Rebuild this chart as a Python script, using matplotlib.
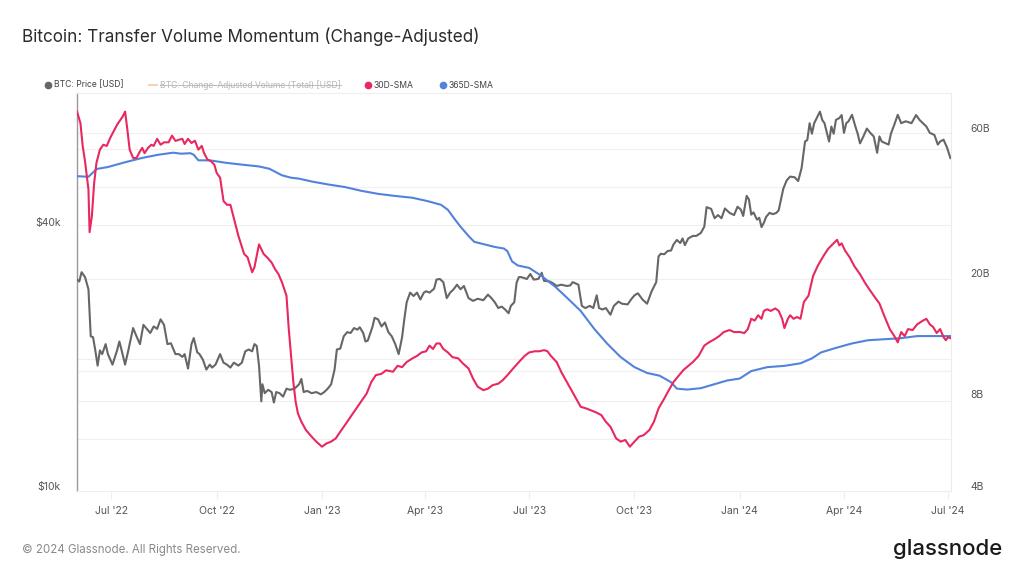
import matplotlib
matplotlib.use("Agg")
import matplotlib.pyplot as plt
import matplotlib.dates as mdates
from matplotlib.lines import Line2D
from matplotlib.transforms import ScaledTranslation
import numpy as np
import pandas as pd

plt.rcParams["font.family"] = ["Inter", "DejaVu Sans"]

# ── BTC price [USD] ───────────────────────────────────────────────────────
price_dates = [
    "2022-06-01", "2022-06-03", "2022-06-05", "2022-06-08", "2022-06-11", "2022-06-13",
    "2022-06-15", "2022-06-17", "2022-06-19", "2022-06-21", "2022-06-23", "2022-06-26",
    "2022-06-28", "2022-07-02", "2022-07-06", "2022-07-08", "2022-07-10", "2022-07-13",
    "2022-07-16", "2022-07-20", "2022-07-23", "2022-07-26", "2022-07-29", "2022-08-01",
    "2022-08-04", "2022-08-07", "2022-08-10", "2022-08-13", "2022-08-16", "2022-08-19",
    "2022-08-22", "2022-08-26", "2022-08-29", "2022-09-01", "2022-09-03", "2022-09-06",
    "2022-09-09", "2022-09-11", "2022-09-14", "2022-09-16", "2022-09-19", "2022-09-22",
    "2022-09-25", "2022-09-27", "2022-09-30", "2022-10-04", "2022-10-07", "2022-10-10",
    "2022-10-13", "2022-10-16", "2022-10-20", "2022-10-23", "2022-10-26", "2022-10-29",
    "2022-11-01", "2022-11-03", "2022-11-05", "2022-11-07", "2022-11-09", "2022-11-10",
    "2022-11-12", "2022-11-15", "2022-11-18", "2022-11-20", "2022-11-22", "2022-11-25",
    "2022-11-28", "2022-12-01", "2022-12-04", "2022-12-08", "2022-12-12", "2022-12-14",
    "2022-12-16", "2022-12-19", "2022-12-23", "2022-12-27", "2022-12-31", "2023-01-03",
    "2023-01-06", "2023-01-09", "2023-01-12", "2023-01-14", "2023-01-17", "2023-01-20",
    "2023-01-23", "2023-01-26", "2023-01-29", "2023-02-01", "2023-02-03", "2023-02-06",
    "2023-02-08", "2023-02-10", "2023-02-14", "2023-02-16", "2023-02-19", "2023-02-22",
    "2023-02-25", "2023-02-28", "2023-03-03", "2023-03-06", "2023-03-09", "2023-03-12",
    "2023-03-14", "2023-03-16", "2023-03-19", "2023-03-22", "2023-03-25", "2023-03-28",
    "2023-03-31", "2023-04-02", "2023-04-05", "2023-04-09", "2023-04-11", "2023-04-14",
    "2023-04-17", "2023-04-20", "2023-04-23", "2023-04-26", "2023-04-29", "2023-05-02",
    "2023-05-05", "2023-05-09", "2023-05-13", "2023-05-17", "2023-05-22", "2023-05-26",
    "2023-05-29", "2023-06-01", "2023-06-04", "2023-06-07", "2023-06-10", "2023-06-13",
    "2023-06-15", "2023-06-18", "2023-06-20", "2023-06-22", "2023-06-24", "2023-06-29",
    "2023-07-02", "2023-07-05", "2023-07-09", "2023-07-12", "2023-07-14", "2023-07-19",
    "2023-07-22", "2023-07-25", "2023-07-29", "2023-08-03", "2023-08-06", "2023-08-08",
    "2023-08-13", "2023-08-16", "2023-08-19", "2023-08-23", "2023-08-26", "2023-08-29",
    "2023-08-31", "2023-09-03", "2023-09-06", "2023-09-10", "2023-09-13", "2023-09-17",
    "2023-09-20", "2023-09-25", "2023-09-28", "2023-10-01", "2023-10-04", "2023-10-08",
    "2023-10-12", "2023-10-16", "2023-10-20", "2023-10-22", "2023-10-24", "2023-10-27",
    "2023-10-30", "2023-11-02", "2023-11-04", "2023-11-07", "2023-11-10", "2023-11-12",
    "2023-11-14", "2023-11-17", "2023-11-21", "2023-11-24", "2023-11-28", "2023-12-01",
    "2023-12-03", "2023-12-07", "2023-12-10", "2023-12-13", "2023-12-16", "2023-12-19",
    "2023-12-23", "2023-12-27", "2023-12-30", "2024-01-02", "2024-01-04", "2024-01-07",
    "2024-01-09", "2024-01-11", "2024-01-13", "2024-01-16", "2024-01-18", "2024-01-20",
    "2024-01-22", "2024-01-24", "2024-01-27", "2024-01-30", "2024-02-02", "2024-02-04",
    "2024-02-08", "2024-02-11", "2024-02-14", "2024-02-18", "2024-02-21", "2024-02-24",
    "2024-02-27", "2024-02-29", "2024-03-02", "2024-03-04", "2024-03-06", "2024-03-09",
    "2024-03-11", "2024-03-13", "2024-03-15", "2024-03-19", "2024-03-21", "2024-03-23",
    "2024-03-25", "2024-03-28", "2024-03-30", "2024-04-01", "2024-04-03", "2024-04-05",
    "2024-04-08", "2024-04-11", "2024-04-13", "2024-04-15", "2024-04-18", "2024-04-21",
    "2024-04-24", "2024-04-27", "2024-04-30", "2024-05-02", "2024-05-04", "2024-05-07",
    "2024-05-10", "2024-05-12", "2024-05-15", "2024-05-18", "2024-05-21", "2024-05-25",
    "2024-05-30", "2024-06-03", "2024-06-06", "2024-06-09", "2024-06-12", "2024-06-15",
    "2024-06-19", "2024-06-22", "2024-06-24", "2024-06-27", "2024-06-30", "2024-07-03",
]
price_usd = [
    30300, 30000, 31500, 30700, 28800, 22500,
    22400, 20900, 19300, 20900, 20500, 21600,
    20500, 19400, 20900, 21900, 20900, 19400,
    21000, 23500, 22500, 21600, 23900, 23400,
    22900, 23700, 23400, 24600, 23900, 21600,
    21700, 20500, 20500, 20200, 20500, 19000,
    21600, 22300, 20700, 20500, 19900, 18900,
    19400, 19100, 19400, 20500, 19600, 19400,
    19100, 19600, 19300, 19600, 20800, 21000,
    20800, 21600, 21400, 19300, 16000, 17500,
    16700, 17000, 16800, 15900, 16800, 16700,
    16400, 17100, 17000, 17100, 17500, 18000,
    16800, 16900, 16700, 16800, 16600, 16800,
    17100, 17500, 18900, 21000, 21100, 22500,
    23000, 22900, 23500, 23300, 23600, 22900,
    21900, 22000, 23600, 24800, 24600, 23700,
    24200, 23000, 22500, 21600, 20500, 22400,
    24700, 26900, 28300, 27800, 28300, 27300,
    28300, 28500, 28300, 28900, 30300, 30400,
    29900, 27500, 28300, 28800, 29500, 28800,
    29300, 27500, 27100, 27400, 27200, 28000,
    27500, 26900, 26100, 26300, 25900, 25400,
    26400, 26900, 29800, 30700, 30700, 30400,
    31200, 30300, 30400, 31400, 30100, 30000,
    29700, 29300, 29500, 29300, 29400, 29900,
    29500, 26400, 26100, 26400, 26100, 27900,
    26100, 25900, 26100, 25200, 26400, 27000,
    26700, 26600, 27300, 27900, 28200, 27300,
    26700, 28500, 29900, 34200, 34700, 34600,
    35200, 35300, 36400, 37300, 36700, 37600,
    36300, 37600, 38100, 38100, 38700, 40000,
    44300, 43900, 41800, 42500, 41800, 44000,
    43000, 42500, 44400, 43700, 42300, 47000,
    46100, 42600, 43100, 41500, 41900, 39900,
    40800, 42100, 43000, 42700, 43000, 43600,
    48800, 51000, 52000, 51800, 50800, 54400,
    62500, 63000, 68800, 65100, 68800, 71400,
    73100, 70000, 68800, 62500, 67600, 65100,
    70000, 70700, 71800, 65400, 68800, 69500,
    71900, 67600, 65100, 61900, 64200, 66900,
    65400, 64200, 58900, 64200, 62500, 62000,
    61500, 65100, 68300, 71900, 68800, 69500,
    68800, 71800, 70000, 68800, 67600, 65400,
    64700, 61500, 62500, 63100, 60600, 57300,
]

# ── 30D-SMA of change-adjusted volume [billion USD] ──────────────────────
sma30_dates = [
    "2022-06-01", "2022-06-04", "2022-06-06", "2022-06-08", "2022-06-11", "2022-06-12",
    "2022-06-14", "2022-06-16", "2022-06-18", "2022-06-21", "2022-06-24", "2022-06-27",
    "2022-06-30", "2022-07-03", "2022-07-06", "2022-07-09", "2022-07-11", "2022-07-13",
    "2022-07-15", "2022-07-17", "2022-07-20", "2022-07-23", "2022-07-26", "2022-07-28",
    "2022-07-30", "2022-08-02", "2022-08-05", "2022-08-07", "2022-08-10", "2022-08-13",
    "2022-08-16", "2022-08-20", "2022-08-23", "2022-08-26", "2022-08-29", "2022-09-01",
    "2022-09-03", "2022-09-06", "2022-09-09", "2022-09-12", "2022-09-15", "2022-09-18",
    "2022-09-20", "2022-09-23", "2022-09-26", "2022-09-29", "2022-10-01", "2022-10-04",
    "2022-10-07", "2022-10-10", "2022-10-13", "2022-10-17", "2022-10-20", "2022-10-25",
    "2022-10-28", "2022-11-01", "2022-11-03", "2022-11-07", "2022-11-11", "2022-11-14",
    "2022-11-18", "2022-11-21", "2022-11-24", "2022-11-27", "2022-12-01", "2022-12-03",
    "2022-12-05", "2022-12-07", "2022-12-09", "2022-12-11", "2022-12-14", "2022-12-18",
    "2022-12-23", "2022-12-27", "2023-01-01", "2023-01-05", "2023-01-09", "2023-01-13",
    "2023-01-18", "2023-01-22", "2023-01-27", "2023-01-31", "2023-02-04", "2023-02-09",
    "2023-02-13", "2023-02-17", "2023-02-22", "2023-02-26", "2023-03-04", "2023-03-08",
    "2023-03-12", "2023-03-16", "2023-03-21", "2023-03-25", "2023-03-29", "2023-04-02",
    "2023-04-05", "2023-04-08", "2023-04-11", "2023-04-14", "2023-04-17", "2023-04-21",
    "2023-04-25", "2023-04-30", "2023-05-04", "2023-05-09", "2023-05-13", "2023-05-17",
    "2023-05-22", "2023-05-26", "2023-05-30", "2023-06-04", "2023-06-08", "2023-06-12",
    "2023-06-16", "2023-06-21", "2023-06-23", "2023-06-27", "2023-07-01", "2023-07-06",
    "2023-07-10", "2023-07-14", "2023-07-17", "2023-07-20", "2023-07-25", "2023-07-29",
    "2023-08-02", "2023-08-07", "2023-08-11", "2023-08-15", "2023-08-20", "2023-08-24",
    "2023-08-28", "2023-09-02", "2023-09-06", "2023-09-10", "2023-09-15", "2023-09-19",
    "2023-09-23", "2023-09-27", "2023-10-01", "2023-10-05", "2023-10-09", "2023-10-14",
    "2023-10-18", "2023-10-22", "2023-10-27", "2023-10-31", "2023-11-04", "2023-11-09",
    "2023-11-13", "2023-11-17", "2023-11-21", "2023-11-26", "2023-12-01", "2023-12-05",
    "2023-12-10", "2023-12-14", "2023-12-18", "2023-12-23", "2023-12-27", "2024-01-01",
    "2024-01-05", "2024-01-08", "2024-01-11", "2024-01-14", "2024-01-17", "2024-01-20",
    "2024-01-22", "2024-01-25", "2024-01-28", "2024-02-01", "2024-02-04", "2024-02-07",
    "2024-02-09", "2024-02-12", "2024-02-14", "2024-02-17", "2024-02-20", "2024-02-23",
    "2024-02-26", "2024-03-01", "2024-03-05", "2024-03-09", "2024-03-14", "2024-03-18",
    "2024-03-22", "2024-03-26", "2024-03-28", "2024-03-30", "2024-04-02", "2024-04-06",
    "2024-04-10", "2024-04-15", "2024-04-19", "2024-04-23", "2024-04-28", "2024-05-02",
    "2024-05-06", "2024-05-11", "2024-05-15", "2024-05-18", "2024-05-21", "2024-05-24",
    "2024-05-27", "2024-05-31", "2024-06-04", "2024-06-09", "2024-06-12", "2024-06-15",
    "2024-06-18", "2024-06-21", "2024-06-24", "2024-06-27", "2024-06-29", "2024-07-01",
    "2024-07-03",
]
sma30_b = [
    70.4, 64.5, 54.1, 48.4, 39.1, 28.3,
    32.0, 41.1, 47.8, 52.8, 54.8, 54.3,
    57.7, 60.6, 63.7, 66.2, 67.9, 70.4,
    61.4, 52.8, 49.6, 49.6, 52.1, 53.5,
    51.4, 53.5, 54.8, 54.3, 57.3, 54.8,
    55.8, 55.8, 58.7, 56.4, 56.9, 57.3,
    55.1, 57.3, 55.5, 56.5, 52.8, 54.3,
    51.4, 49.0, 48.4, 47.1, 44.3, 42.7,
    35.8, 34.8, 34.8, 30.4, 27.5, 24.0,
    23.4, 20.9, 21.7, 25.8, 24.0, 23.4,
    22.5, 21.4, 20.6, 19.4, 17.5, 13.6,
    11.1, 9.1, 7.85, 7.19, 6.75, 6.34,
    6.03, 5.81, 5.59, 5.73, 5.81, 5.95,
    6.34, 6.66, 7.1, 7.46, 7.85, 8.35,
    9.1, 9.6, 9.7, 9.96, 9.85, 10.3,
    10.2, 10.6, 10.9, 11.1, 11.4, 11.5,
    12.0, 11.7, 12.2, 12.2, 11.7, 11.4,
    11.0, 10.9, 10.5, 10.1, 9.35, 8.8,
    8.57, 8.67, 8.9, 9.0, 9.25, 9.6,
    10.0, 10.5, 10.7, 11.1, 11.4, 11.5,
    11.5, 11.6, 11.5, 11.1, 10.6, 9.84,
    9.25, 8.57, 8.04, 7.56, 7.46, 7.36,
    7.26, 7.1, 6.75, 6.5, 5.95, 5.81,
    5.88, 5.59, 5.81, 6.03, 6.1, 6.34,
    6.75, 7.46, 8.04, 8.57, 9.1, 9.6,
    10.0, 10.3, 10.6, 11.1, 12.0, 12.3,
    12.6, 12.9, 13.3, 13.5, 13.3, 13.3,
    13.2, 13.6, 14.7, 14.5, 15.1, 14.7,
    15.6, 15.8, 15.6, 15.9, 15.6, 14.7,
    13.7, 14.7, 15.1, 14.7, 14.9, 14.7,
    16.7, 17.5, 20.3, 21.9, 23.6, 24.9,
    25.8, 26.7, 25.6, 26.0, 24.6, 23.4,
    21.9, 20.6, 19.4, 18.4, 17.3, 16.5,
    15.1, 13.6, 12.9, 12.3, 13.3, 12.9,
    13.6, 13.5, 14.1, 14.5, 14.7, 14.1,
    13.8, 13.2, 13.6, 12.8, 12.5, 12.8,
    12.7,
]

# ── 365D-SMA of change-adjusted volume [billion USD] ─────────────────────
sma365_dates = [
    "2022-06-01", "2022-06-11", "2022-06-16", "2022-06-18", "2022-06-28", "2022-07-13",
    "2022-07-28", "2022-08-11", "2022-08-24", "2022-08-31", "2022-09-08", "2022-09-11",
    "2022-09-15", "2022-09-25", "2022-10-09", "2022-10-24", "2022-11-07", "2022-11-16",
    "2022-11-27", "2022-12-05", "2022-12-12", "2022-12-23", "2023-01-06", "2023-01-21",
    "2023-02-04", "2023-02-19", "2023-03-06", "2023-03-21", "2023-04-03", "2023-04-15",
    "2023-04-21", "2023-04-27", "2023-05-02", "2023-05-09", "2023-05-14", "2023-05-23",
    "2023-06-01", "2023-06-09", "2023-06-12", "2023-06-16", "2023-06-21", "2023-07-01",
    "2023-07-12", "2023-07-24", "2023-08-04", "2023-08-15", "2023-08-27", "2023-09-07",
    "2023-09-19", "2023-10-01", "2023-10-12", "2023-10-23", "2023-11-02", "2023-11-07",
    "2023-11-16", "2023-11-28", "2023-12-10", "2023-12-21", "2024-01-01", "2024-01-11",
    "2024-01-25", "2024-02-09", "2024-02-23", "2024-03-04", "2024-03-12", "2024-03-25",
    "2024-04-08", "2024-04-22", "2024-05-07", "2024-05-21", "2024-06-04", "2024-06-19",
    "2024-07-03",
]
sma365_b = [
    43.2, 43.0, 44.8, 45.6, 46.3, 48.0,
    49.6, 50.8, 51.6, 51.2, 51.4, 50.8,
    48.7, 48.7, 47.8, 47.1, 46.5, 45.7,
    43.5, 42.7, 42.4, 41.5, 40.6, 39.8,
    38.7, 37.8, 37.2, 36.7, 35.8, 34.8,
    33.5, 31.2, 29.5, 27.5, 26.3, 25.8,
    25.3, 25.0, 24.5, 22.7, 22.0, 21.6,
    20.3, 18.7, 17.1, 15.6, 13.6, 12.2,
    11.0, 10.2, 9.76, 9.56, 9.1, 8.67,
    8.61, 8.7, 8.97, 9.22, 9.36, 9.9,
    10.2, 10.3, 10.5, 10.9, 11.4, 11.8,
    12.2, 12.5, 12.6, 12.7, 12.9, 12.9,
    12.9,
]

x_ticks = ["2022-07-01", "2022-10-01", "2023-01-01", "2023-04-01", "2023-07-01",
           "2023-10-01", "2024-01-01", "2024-04-01", "2024-07-01"]

PRICE_COLOR = "#666666"
SMA30_COLOR = "#e8285f"
SMA365_COLOR = "#5282dc"
GRID_COLOR = "#f0f0f0"
TEXT_COLOR = "#555555"

PRICE_LIM = (10000, 80600)
VOL_LIM = (4.06, 81.0)

fig = plt.figure(figsize=(10.24, 5.76), dpi=100)
fig.patch.set_facecolor("white")
ax = fig.add_axes([0.0752, 0.1476, 0.8535, 0.6909])
ax2 = ax.twinx()

# ── gridlines (both axes, drawn under everything) ─────────────────────────
def frac(v, lim):
    return (np.log10(v) - np.log10(lim[0])) / (np.log10(lim[1]) - np.log10(lim[0]))

grid_fracs = [frac(v, PRICE_LIM) for v in [20000, 60000]]
grid_fracs += [frac(v, VOL_LIM) for v in [6, 8, 10, 20, 30, 40, 60]]
for f in grid_fracs:
    ax.plot([0, 1], [f, f], transform=ax.transAxes, color=GRID_COLOR, lw=0.9, zorder=0)

# ── series ────────────────────────────────────────────────────────────────
ax.plot(pd.to_datetime(price_dates), price_usd, color=PRICE_COLOR, lw=1.5, zorder=3)
ax2.plot(pd.to_datetime(sma365_dates), sma365_b, color=SMA365_COLOR, lw=1.5, zorder=3)
ax2.plot(pd.to_datetime(sma30_dates), sma30_b, color=SMA30_COLOR, lw=1.5, zorder=4)

# ── scales / limits ───────────────────────────────────────────────────────
ax.set_yscale("log")
ax2.set_yscale("log")
ax.set_ylim(*PRICE_LIM)
ax2.set_ylim(*VOL_LIM)
ax.set_xlim(pd.Timestamp("2022-06-01"), pd.Timestamp("2024-07-03 12:00"))

ax.set_yticks([10000, 40000])
ax.set_yticklabels(["$10k", "$40k"])
ax.yaxis.set_minor_locator(matplotlib.ticker.NullLocator())
ax2.set_yticks([4, 8, 20, 60])
ax2.set_yticklabels(["4B", "8B", "20B", "60B"])
ax2.yaxis.set_minor_locator(matplotlib.ticker.NullLocator())

ax.set_xticks(pd.to_datetime(x_ticks))
ax.xaxis.set_major_formatter(mdates.DateFormatter("%b '%y"))

ax.tick_params(axis="x", length=6, width=0.8, color="#eeeeee", labelsize=7.5,
               labelcolor=TEXT_COLOR, pad=4.5)
ax.tick_params(axis="y", length=0, labelsize=7.5, labelcolor=TEXT_COLOR, pad=12)
ax2.tick_params(axis="y", length=0, labelsize=7.5, labelcolor=TEXT_COLOR, pad=14)

# y labels sit a little above their gridlines in the original
lift = ScaledTranslation(0, 5 / 100, fig.dpi_scale_trans)
for lab in ax.get_yticklabels() + ax2.get_yticklabels():
    lab.set_transform(lab.get_transform() + lift)

for s in ["top", "bottom"]:
    ax.spines[s].set_color("#eeeeee")
    ax.spines[s].set_linewidth(0.8)
ax.spines["right"].set_visible(False)
ax.spines["left"].set_color("#999999")
ax.spines["left"].set_linewidth(1.0)
for s in ["top", "bottom", "left"]:
    ax2.spines[s].set_visible(False)
ax2.spines["right"].set_color("#f3ebe3")
ax2.spines["right"].set_linewidth(0.8)

# ── title, legend, footer ────────────────────────────────────────────────
W, H = 1024, 576
fig.text(22 / W, 1 - 37 / H, "Bitcoin: Transfer Volume Momentum (Change-Adjusted)",
         fontsize=12.3, color="#2b2b2b", va="center", ha="left")

leg_y = 1 - 85 / H
legend_items = [
    (48, "BTC: Price [USD]", PRICE_COLOR),
    (368, "30D-SMA", SMA30_COLOR),
    (443, "365D-SMA", SMA365_COLOR),
]
for px, label, col in legend_items:
    fig.add_artist(Line2D([px / W], [leg_y], marker="o", markersize=4.5, color=col,
                          transform=fig.transFigure))
    fig.text((px + 6) / W, leg_y, label, fontsize=6.2, color="#444444",
             va="center", ha="left")

# disabled series: struck-through entry
fig.add_artist(Line2D([149 / W, 157 / W], [leg_y, leg_y], color="#f2c9a2", lw=1.2,
                      transform=fig.transFigure))
t = fig.text(160 / W, leg_y, "BTC: Change-Adjusted Volume (Total) [USD]", fontsize=6.2,
             color="#b5b5b5", va="center", ha="left")
fig.canvas.draw()
bb = t.get_window_extent(fig.canvas.get_renderer())
fig.add_artist(Line2D([bb.x0 / W, bb.x1 / W], [leg_y, leg_y], color="#c0c0c0", lw=0.7,
                      transform=fig.transFigure))

fig.text(22 / W, 1 - 550 / H, "\u00a9 2024 Glassnode. All Rights Reserved.",
         fontsize=8.3, color="#8a8a8a", va="center", ha="left")
fig.text(1002 / W, 1 - 549 / H, "glassnode", fontsize=16, color="#1a1a1a",
         va="center", ha="right", fontweight="medium")

fig.savefig("out.png", dpi=100, facecolor="white")
